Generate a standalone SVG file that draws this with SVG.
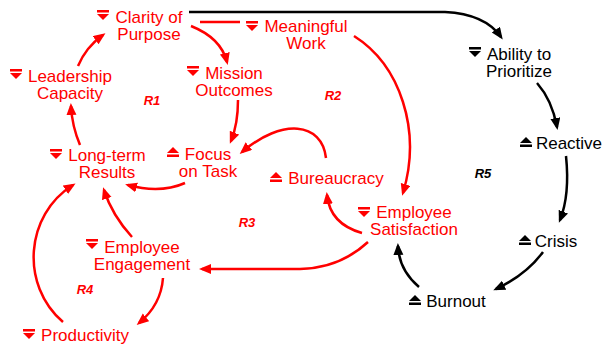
<svg xmlns="http://www.w3.org/2000/svg" xmlns:xlink="http://www.w3.org/1999/xlink" width="603" height="347" viewBox="0 0 603 347">
<style>
text{font-family:"Liberation Sans",Arial,sans-serif;font-size:17px;text-anchor:middle}
.r{fill:#f00}
.k{fill:#000}
.loop{font-size:13px;font-weight:bold;font-style:italic}
.cr{fill:none;stroke:#f00;stroke-width:2.5}
.ck{fill:none;stroke:#000;stroke-width:2.5}
.ar{marker-end:url(#ahr)}
.ak{marker-end:url(#ahk)}
</style>
<defs>
<marker id="ahr" markerUnits="userSpaceOnUse" markerWidth="13" markerHeight="11" refX="9" refY="5" orient="auto" viewBox="0 0 13 11"><path d="M0,0 L12,5 L0,10 z" fill="#f00"/></marker>
<marker id="ahk" markerUnits="userSpaceOnUse" markerWidth="13" markerHeight="11" refX="9" refY="5" orient="auto" viewBox="0 0 13 11"><path d="M0,0 L12,5 L0,10 z" fill="#000"/></marker>
<symbol id="dn" viewBox="0 0 12 10" width="12" height="10" overflow="visible"><rect x="0" y="0" width="12" height="2.5" fill="currentColor"/><polygon points="0,4 12,4 6,10" fill="currentColor"/></symbol>
<symbol id="up" viewBox="0 0 12 10" width="12" height="10" overflow="visible"><polygon points="6,0 12,6 0,6" fill="currentColor"/><rect x="0" y="7.5" width="12" height="2.5" fill="currentColor"/></symbol>
</defs>

<g id="connectors">
<path class="ck ak" d="M189,12 L445,12 Q485,14 501,37"/>
<path class="cr" d="M200,22 L240,22"/>
<path class="cr ar" d="M78,66 Q86,47 103,35"/>
<path class="cr ar" d="M191,26 Q221,38 227,62"/>
<path class="cr ar" d="M238,100 Q238,124 231,141"/>
<path class="cr ar" d="M80,145 Q72,126 71,106"/>
<path class="cr ar" d="M185,183 Q160,194 128,185"/>
<path class="cr ar" d="M326,158 C322,122 282,118 242,152"/>
<path class="cr ar" d="M362,233 Q330,224 327,195"/>
<path class="cr ar" d="M354,36 C400,65 422,130 403,193"/>
<path class="cr ar" d="M368,242 Q340,268 300,269 L202,269"/>
<path class="cr ar" d="M132,237 Q112,215 104,190"/>
<path class="cr ar" d="M163,278 Q161,305 139,323"/>
<path class="cr ar" d="M63,322 C20,285 25,215 73,185"/>
<path class="ck ak" d="M537,83 Q552,100 557,127"/>
<path class="ck ak" d="M566,156 Q570,195 560,220"/>
<path class="ck ak" d="M543,252 Q526,275 496,289"/>
<path class="ck ak" d="M419,287 Q399,270 398,246"/>
</g>

<g id="clarity" style="color:#f00"><use xlink:href="#dn" x="97" y="10"/><text class="r" x="149" y="23">Clarity of</text><text class="r" x="149" y="40">Purpose</text></g>
<g id="meaningful" style="color:#f00"><use xlink:href="#dn" x="246" y="21"/><text class="r" x="306" y="32">Meaningful</text><text class="r" x="306" y="49">Work</text></g>
<g id="mission" style="color:#f00"><use xlink:href="#dn" x="187" y="66"/><text class="r" x="234" y="79">Mission</text><text class="r" x="234" y="96">Outcomes</text></g>
<g id="leadership" style="color:#f00"><use xlink:href="#dn" x="10" y="69"/><text class="r" x="70" y="82">Leadership</text><text class="r" x="70" y="99">Capacity</text></g>
<g id="longterm" style="color:#f00"><use xlink:href="#dn" x="50" y="149"/><text class="r" x="107" y="161">Long-term</text><text class="r" x="107" y="178">Results</text></g>
<g id="focus" style="color:#f00"><use xlink:href="#up" x="167" y="147"/><text class="r" x="208" y="160">Focus</text><text class="r" x="208" y="177">on Task</text></g>
<g id="bureaucracy" style="color:#f00"><use xlink:href="#up" x="270" y="172"/><text class="r" x="336" y="184">Bureaucracy</text></g>
<g id="satisfaction" style="color:#f00"><use xlink:href="#dn" x="358" y="207"/><text class="r" x="414" y="218">Employee</text><text class="r" x="414" y="235">Satisfaction</text></g>
<g id="engagement" style="color:#f00"><use xlink:href="#dn" x="86" y="239"/><text class="r" x="142" y="253">Employee</text><text class="r" x="142" y="270">Engagement</text></g>
<g id="productivity" style="color:#f00"><use xlink:href="#dn" x="23" y="329"/><text class="r" x="85" y="341">Productivity</text></g>
<g id="ability" style="color:#000"><use xlink:href="#dn" x="469" y="47"/><text class="k" x="519" y="60">Ability to</text><text class="k" x="519" y="77">Prioritize</text></g>
<g id="reactive" style="color:#000"><use xlink:href="#up" x="520" y="137"/><text class="k" x="569" y="149">Reactive</text></g>
<g id="crisis" style="color:#000"><use xlink:href="#up" x="519" y="235"/><text class="k" x="556" y="247">Crisis</text></g>
<g id="burnout" style="color:#000"><use xlink:href="#up" x="409" y="295"/><text class="k" x="456" y="307">Burnout</text></g>

<g id="loops">
<text class="r loop" x="152" y="105">R1</text>
<text class="r loop" x="333" y="100">R2</text>
<text class="r loop" x="247" y="227">R3</text>
<text class="r loop" x="85" y="294">R4</text>
<text class="k loop" x="483" y="178">R5</text>
</g>
</svg>
